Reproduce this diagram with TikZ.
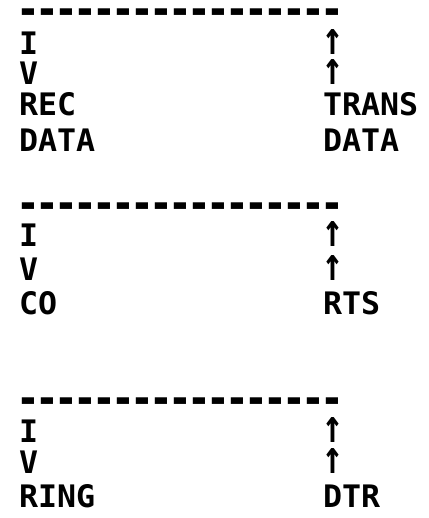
\documentclass[tikz,border=0pt]{standalone}
\usepackage{fontspec}
\newfontfamily\plotfont[FakeStretch=1.02]{DejaVu Sans Mono}
\newcommand\plotdash{\makebox[19pt]{\scalebox{1.25}[1.5]{-}}}
\newcommand\plotrule{\plotdash\plotdash\plotdash\plotdash\plotdash\plotdash\plotdash\plotdash\plotdash\plotdash\plotdash\plotdash\plotdash\plotdash\plotdash\plotdash\plotdash}
\newcommand\plotup{\makebox[19pt]{\scalebox{1.1}[1.5]{↑}}}
\begin{document}
\begin{tikzpicture}[x=1pt,y=-1pt,
  txt/.style={anchor=base west,inner sep=0pt,outer sep=0pt,
    font=\plotfont\bfseries\fontsize{31}{31}\selectfont}]
\useasboundingbox (0,0) rectangle (428,518);
% block 1
\node[txt] (dash1) at (19,26) {\plotrule};
\node[txt] (i1) at (19,54.5) {I};
\node[txt] (v1) at (19,85) {V};
\node[txt] (rec) at (19,116) {REC};
\node[txt] (rdata) at (19,151.5) {DATA};
\node[txt] (ua1) at (323,54.5) {\plotup};
\node[txt] (ub1) at (323,85) {\plotup};
\node[txt] (trans) at (323,116) {TRANS};
\node[txt] (tdata) at (323,151.5) {DATA};
% block 2
\node[txt] (dash2) at (19,220) {\plotrule};
\node[txt] (i2) at (19,246.5) {I};
\node[txt] (v2) at (19,280.5) {V};
\node[txt] (co) at (19,314.5) {CO};
\node[txt] (ua2) at (323,246.5) {\plotup};
\node[txt] (ub2) at (323,280.5) {\plotup};
\node[txt] (rts) at (323,314.5) {RTS};
% block 3
\node[txt] (dash3) at (19,414) {\plotrule};
\node[txt] (i3) at (19,442) {I};
\node[txt] (v3) at (19,473) {V};
\node[txt] (ring) at (19,507) {RING};
\node[txt] (ua3) at (323,442) {\plotup};
\node[txt] (ub3) at (323,473) {\plotup};
\node[txt] (dtr) at (323,507) {DTR};
\end{tikzpicture}
\end{document}
